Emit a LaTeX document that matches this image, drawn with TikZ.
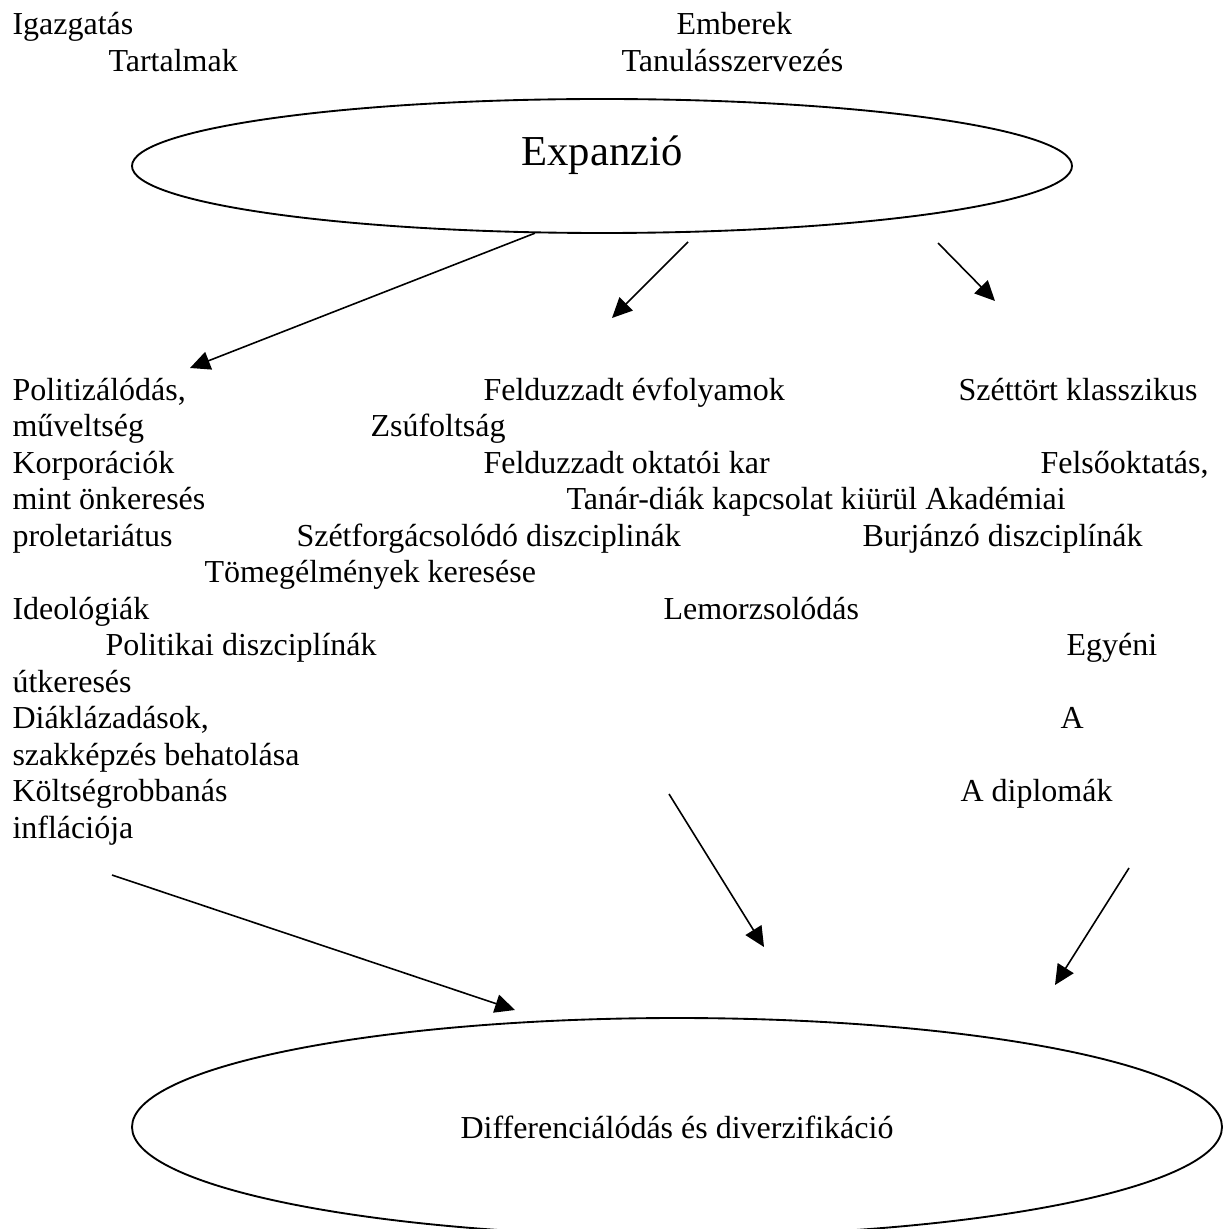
\documentclass[tikz,border=0pt]{standalone}
\usepackage{fontspec}
\setmainfont{Liberation Serif}
\usetikzlibrary{positioning,shapes.geometric,arrows.meta}

\begin{document}
\begin{tikzpicture}[x=0.375pt,y=-0.375pt,
    txt/.style={anchor=base west,inner sep=0pt,font=\fontsize{12}{14}\selectfont},
    arr/.style={-{Triangle[length=7.5pt,width=7pt]},line width=0.6pt},
    bubble/.style={draw,ellipse,line width=0.7pt,inner sep=0pt}]
    \useasboundingbox (0,0) rectangle (1223,1229);

    % Header
    \node[txt] (igaz) at (12,35) {Igazgatás};
    \node[txt] (ember) at (676,35) {Emberek};
    \node[txt] (tart) at (108,72) {Tartalmak};
    \node[txt] (tanul) at (621,72) {Tanulásszervezés};

    % Expansion
    \node[bubble,minimum width=352.5pt,minimum height=50.25pt,font=\fontsize{16}{19}\selectfont] (exp) at (602,166) {\raisebox{0pt}[0pt][0pt]{Expanzió}};

    % Arrows out of the expansion
    \coordinate (s2) at (688,242);
    \coordinate (s3) at (938,243);
    \coordinate (t1) at (190,368);
    \coordinate (t2) at (612,318);
    \coordinate (t3) at (995,301);
    \draw[arr] (exp.225) -- (t1);
    \draw[arr] (s2) -- (t2);
    \draw[arr] (s3) -- (t3);

    % Left column
    \node[txt] (pol) at (12,400) {Politizálódás,};
    \node[txt] (muv) at (12,436.5) {műveltség};
    \node[txt] (korp) at (12,473) {Korporációk};
    \node[txt] (mint) at (12,509.5) {mint önkeresés};
    \node[txt] (prol) at (12,546) {proletariátus};
    \node[txt] (ideo) at (12,619) {Ideológiák};
    \node[txt] (utk) at (12,692) {útkeresés};
    \node[txt] (diak) at (12,728.5) {Diáklázadások,};
    \node[txt] (szak) at (12,765) {szakképzés behatolása};
    \node[txt] (kolt) at (12,801.5) {Költségrobbanás};
    \node[txt] (infl) at (12,838) {inflációja};

    % Middle column
    \node[txt] (evf) at (483,400) {Felduzzadt évfolyamok};
    \node[txt] (zsuf) at (370,436.5) {Zsúfoltság};
    \node[txt] (okt) at (483,473) {Felduzzadt oktatói kar};
    \node[txt] (tanar) at (566,509.5) {Tanár-diák kapcsolat kiürül Akadémiai};
    \node[txt] (szet) at (296,546) {Szétforgácsolódó diszciplinák};
    \node[txt] (tomeg) at (204,582.5) {Tömegélmények keresése};
    \node[txt] (lemor) at (663,619) {Lemorzsolódás};
    \node[txt] (poldis) at (105,655.5) {Politikai diszciplínák};

    % Right column
    \node[txt] (klass) at (958,400) {Széttört klasszikus};
    \node[txt] (felso) at (1040,473) {Felsőoktatás,};
    \node[txt] (burj) at (862,546) {Burjánzó diszciplínák};
    \node[txt] (egy) at (1066,655.5) {Egyéni};
    \node[txt] (aa) at (1060,728.5) {A};
    \node[txt] (dipl) at (960,801.5) {A diplomák};

    % Differentiation
    \node[bubble,minimum width=408.75pt,minimum height=81.75pt,font=\fontsize{12}{14}\selectfont] (diff) at (677,1127) {Differenciálódás és diverzifikáció};

    % Arrows into the differentiation
    \coordinate (u1) at (112,875);
    \coordinate (u2) at (669,794);
    \coordinate (u3) at (1129,868);
    \coordinate (v1) at (515,1010);
    \coordinate (v2) at (764,947);
    \coordinate (v3) at (1055,985);
    \draw[arr] (u1) -- (v1);
    \draw[arr] (u2) -- (v2);
    \draw[arr] (u3) -- (v3);
\end{tikzpicture}
\end{document}
